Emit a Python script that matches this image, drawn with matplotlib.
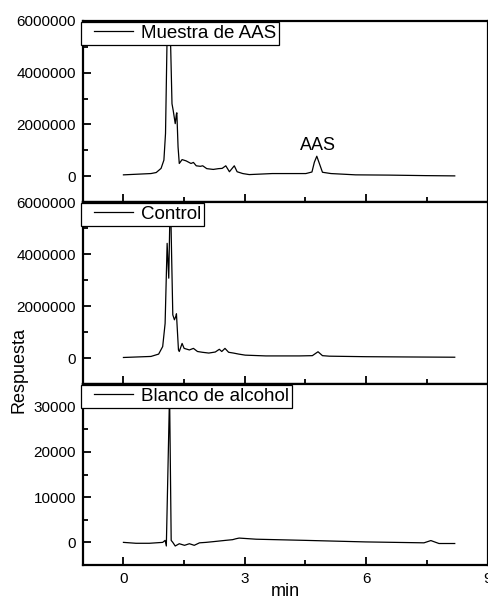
"""
Chromatogramme: Muestra de AAS, Control, Blanco de alcohol
"""

import matplotlib

matplotlib.use("Agg")
import matplotlib.pyplot as plt
from matplotlib.legend_handler import HandlerLine2D
from matplotlib.lines import Line2D
from matplotlib.ticker import MultipleLocator

# Muestra de AAS (min, Respuesta)
aas_t = [0.0, 0.68, 0.81, 0.93, 1.00, 1.04, 1.08, 1.12, 1.16, 1.20, 1.23, 1.28,
         1.31, 1.32, 1.35, 1.38, 1.45, 1.55, 1.67, 1.73, 1.80, 1.90, 1.96, 2.06,
         2.22, 2.35, 2.44, 2.53, 2.62, 2.74, 2.81, 2.95, 3.11, 3.68, 4.51, 4.66,
         4.72, 4.78, 4.85, 4.92, 5.13, 5.74, 6.57, 7.47, 8.19]
aas_y = [50000, 100000, 140000, 300000, 620000, 1650000, 5500000, 7500000,
         5500000, 2800000, 2540000, 2030000, 2410000, 2450000, 1130000, 490000,
         640000, 590000, 490000, 530000, 400000, 380000, 400000, 290000, 260000,
         290000, 300000, 400000, 170000, 400000, 170000, 100000, 60000, 100000,
         100000, 160000, 540000, 770000, 460000, 150000, 100000, 50000, 40000,
         20000, 10000]

# Control
ctl_t = [0.0, 0.68, 0.87, 0.97, 1.03, 1.08, 1.12, 1.16, 1.19, 1.22, 1.26, 1.30,
         1.31, 1.36, 1.38, 1.45, 1.50, 1.63, 1.73, 1.83, 1.95, 2.11, 2.27, 2.37,
         2.43, 2.51, 2.60, 2.72, 2.85, 3.01, 3.52, 4.35, 4.67, 4.81, 4.92, 5.09,
         6.00, 7.00, 8.19]
ctl_y = [20000, 60000, 150000, 440000, 1330000, 4410000, 3070000, 6500000,
         4000000, 1660000, 1470000, 1620000, 1700000, 310000, 250000, 560000,
         370000, 310000, 370000, 250000, 220000, 190000, 230000, 335000, 250000,
         370000, 220000, 190000, 150000, 110000, 80000, 80000, 90000, 240000,
         90000, 70000, 50000, 40000, 30000]

# Blanco de alcohol
bla_t = [0.0, 0.31, 0.64, 0.97, 1.03, 1.06, 1.14, 1.18, 1.22, 1.28, 1.38, 1.51,
         1.63, 1.75, 1.88, 2.04, 2.21, 2.53, 2.70, 2.78, 2.86, 3.28, 4.51, 5.99,
         7.43, 7.60, 7.80, 8.19]
bla_y = [0, -200, -200, 0, 440, -800, 33000, 440, 0, -800, -300, -650, -300,
         -650, -100, 0, 150, 450, 600, 800, 950, 700, 440, 100, -100, 400, -250,
         -250]

x_ticks = [0, 3, 6, 9]
y_ticks_big = [0, 2000000, 4000000, 6000000]
y_ticks_small = [0, 10000, 20000, 30000]

W, H = 488, 598


def style_axis(ax):
    for spine in ax.spines.values():
        spine.set_linewidth(1.6)
    ax.tick_params(which="both", direction="in", width=1.3, labelsize=11,
                   top=False, right=False, pad=5)
    ax.tick_params(which="major", length=6)
    ax.tick_params(which="minor", length=3.5)
    ax.set_xlim(-1, 9)
    ax.set_xticks(x_ticks)
    ax.xaxis.set_minor_locator(MultipleLocator(1.5))
    ax.ticklabel_format(axis="y", style="plain", useOffset=False)


def main():
    plt.rcParams["font.family"] = ["Liberation Sans", "DejaVu Sans"]
    fig = plt.figure(figsize=(W / 100, H / 100), dpi=100)

    left = 83 / W
    width = 404.5 / W
    panels = [(21, 202), (202, 384), (384, 565)]
    axes = []
    for top, bottom in panels:
        ax = fig.add_axes([left, 1 - bottom / H, width, (bottom - top) / H])
        axes.append(ax)

    series = [
        (aas_t, aas_y, "Muestra de AAS", (-1000000, 6000000), y_ticks_big, 1000000),
        (ctl_t, ctl_y, "Control", (-1000000, 6000000), y_ticks_big, 1000000),
        (bla_t, bla_y, "Blanco de alcohol", (-5000, 35000), y_ticks_small, 5000),
    ]
    for ax, (t, y, name, ylim, yt, minor) in zip(axes, series):
        ax.plot(t, y, color="black", linewidth=0.9, label=name)
        style_axis(ax)
        ax.set_ylim(*ylim)
        ax.set_yticks(yt)
        ax.yaxis.set_minor_locator(MultipleLocator(minor))
        leg = ax.legend(loc="upper left", bbox_to_anchor=(-0.004, 0.997),
                        borderaxespad=0.0, fontsize=13.5, frameon=True,
                        fancybox=False, handlelength=2.6, handletextpad=0.4,
                        borderpad=0.17,
                        handler_map={Line2D: HandlerLine2D(xpad=0.48)})
        leg.get_frame().set_edgecolor("black")
        leg.get_frame().set_linewidth(0.9)
        leg.get_frame().set_alpha(1)

    axes[0].tick_params(labelbottom=False)
    axes[1].tick_params(labelbottom=False)

    axes[0].text(4.8, 1200000, "AAS", ha="center", va="center", fontsize=13)

    fig.text(19 / W, 1 - 370 / H, "Respuesta", rotation=90, ha="center",
             va="center", fontsize=13)
    fig.text(285 / W, 1 - 591 / H, "min", ha="center", va="center", fontsize=13)

    fig.savefig("out.png", dpi=100)


if __name__ == "__main__":
    main()
